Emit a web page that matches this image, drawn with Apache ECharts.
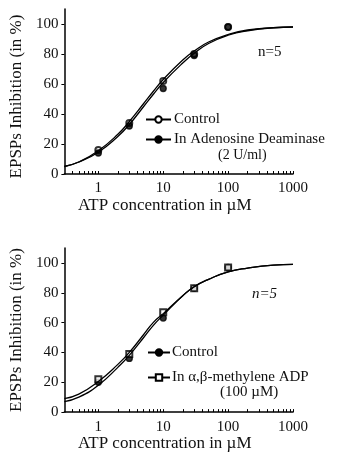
<!DOCTYPE html>
<html>
<head>
<meta charset="utf-8">
<script src="https://cdn.jsdelivr.net/npm/echarts@6/dist/echarts.min.js"></script>
<style>
  html, body { margin: 0; padding: 0; background: #fff; }
  #chart { width: 338px; height: 453px; }
</style>
</head>
<body>
<div id="chart"></div>
<script>
// ATP concentrations (µM) where responses were measured
const doses = [1, 3, 10, 30, 100];

// Upper panel: adenosine deaminase experiment
const ctlA = [16, 34, 62, 80, 98];
const adaA = [14, 32, 57, 79, 98];

// Lower panel: alpha,beta-methylene ADP experiment
const ctlB = [20, 36, 63, 83, 97];
const mADP = [22, 39, 67, 83, 97];

// Concentrations at which the fitted dose-response curves are sampled
const curveX = [0.3, 0.5, 1, 2, 3, 5, 7, 10, 20, 30, 50, 100, 200, 500, 1000];
const fitCtlA = [5, 8, 15.5, 26.5, 35, 47, 55, 63, 76, 82, 88, 93, 96, 97.5, 98];
const fitAdaA = [5, 8, 14.5, 25, 33, 45, 53, 61, 74, 80.5, 87, 92.5, 95.5, 97.5, 98];
const fitCtlB = [7, 10, 18, 30, 38, 50, 58, 65, 78, 84, 89, 94, 96.5, 98.5, 99];
const fitMADP = [9, 12, 20.5, 32, 40, 52, 60, 66, 78, 84, 89, 94, 96.5, 98.5, 99];

const xTicks = [1, 10, 100, 1000];
const yTicks = [0, 20, 40, 60, 80, 100];
const xMinor = [0.4, 0.5, 0.6, 0.7, 0.8, 0.9, 2, 3, 4, 5, 6, 7, 8, 9,
                20, 30, 40, 50, 60, 70, 80, 90, 200, 300, 400, 500, 600, 700, 800, 900];

const FONT = '"Liberation Serif", "DejaVu Serif", serif';
const pair = (xs, ys) => xs.map((x, i) => [x, ys[i]]);

function xAxisFor(grid) {
  return {
    type: 'log', gridIndex: grid, position: 'bottom', min: 0.3, max: 1000, logBase: 10,
    name: 'ATP concentration in µM', nameLocation: 'middle', nameGap: 18,
    nameTextStyle: { fontFamily: FONT, fontSize: 17, color: '#111', padding: [0, 28, 0, 0] },
    axisLine: { lineStyle: { color: '#000', width: 1.5 } },
    axisTick: { show: true, inside: true, length: 3, customValues: xTicks.concat(xMinor), lineStyle: { color: '#000' } },
    axisLabel: { customValues: xTicks, formatter: v => String(v), fontFamily: FONT, fontSize: 15, color: '#111', margin: 7 },
    splitLine: { show: false }
  };
}

function yAxisFor(grid, shift) {
  return {
    type: 'value', gridIndex: grid, min: 0, max: 110,
    name: 'EPSPs Inhibition (in %)', nameLocation: 'middle', nameGap: 33, nameRotate: 90,
    nameTextStyle: { fontFamily: FONT, fontSize: 17, color: '#111', padding: [0, shift, 0, 0] },
    axisLine: { lineStyle: { color: '#000', width: 1.5 } },
    axisTick: { show: true, length: 3, customValues: yTicks, lineStyle: { color: '#000' } },
    axisLabel: { customValues: yTicks, fontFamily: FONT, fontSize: 15, color: '#111', margin: 6 },
    splitLine: { show: false }
  };
}

function curve(name, ys, xi, yi, symbol) {
  return {
    name: name, type: 'line', xAxisIndex: xi, yAxisIndex: yi,
    data: pair(curveX, ys), smooth: true, showSymbol: false,
    symbol: symbol, symbolSize: 6,
    lineStyle: { color: '#000', width: 1.3 }, itemStyle: { color: '#000', borderColor: '#000', borderWidth: 1.2 },
    silent: true
  };
}

function points(ys, xi, yi, symbol) {
  return {
    type: 'scatter', xAxisIndex: xi, yAxisIndex: yi,
    data: pair(doses, ys), symbol: symbol, symbolSize: 6,
    itemStyle: { color: '#000', borderColor: '#000', borderWidth: 1.3 }
  };
}

const labels = { ctlA: 'Control', adaA: 'In Adenosine Deaminase', ctlB: 'Control', mADP: 'In α,β-methylene ADP' };

const chart = echarts.init(document.getElementById('chart'), null, { renderer: 'canvas' });
chart.setOption({
  backgroundColor: '#fff',
  animation: false,
  grid: [
    { left: 63, top: 9, width: 230, height: 165 },
    { left: 63, top: 248, width: 230, height: 165 }
  ],
  xAxis: [xAxisFor(0), xAxisFor(1)],
  yAxis: [yAxisFor(0, 10), yAxisFor(1, 0)],
  legend: [
    {
      data: ['ctlA', 'adaA'], orient: 'vertical', left: 145, top: 112, itemGap: 5, padding: 0,
      itemWidth: 25, itemHeight: 8,
      formatter: n => labels[n],
      textStyle: { fontFamily: FONT, fontSize: 15, color: '#111', padding: [0, 0, 0, -2] }
    },
    {
      data: ['ctlB', 'mADP'], orient: 'vertical', left: 147, top: 345, itemGap: 10, padding: 0,
      itemWidth: 22, itemHeight: 8,
      formatter: n => labels[n],
      textStyle: { fontFamily: FONT, fontSize: 15, color: '#111', padding: [0, 0, 0, -3] }
    }
  ],
  graphic: [
    { type: 'text', left: 258, top: 45, style: { text: 'n=5', font: '15px ' + FONT, fill: '#111' } },
    { type: 'text', left: 218, top: 148, style: { text: '(2 U/ml)', font: '14px ' + FONT, fill: '#111' } },
    { type: 'text', left: 252, top: 287, style: { text: 'n=5', font: 'italic 15px ' + FONT, fill: '#111' } },
    { type: 'text', left: 220, top: 385, style: { text: '(100 µM)', font: '15px ' + FONT, fill: '#111' } }
  ],
  series: [
    curve('ctlA', fitCtlA, 0, 0, 'emptyCircle'),
    curve('adaA', fitAdaA, 0, 0, 'circle'),
    points(ctlA, 0, 0, 'emptyCircle'),
    points(adaA, 0, 0, 'circle'),
    curve('ctlB', fitCtlB, 1, 1, 'circle'),
    curve('mADP', fitMADP, 1, 1, 'emptyRect'),
    points(ctlB, 1, 1, 'circle'),
    points(mADP, 1, 1, 'emptyRect')
  ]
});
</script>
</body>
</html>
